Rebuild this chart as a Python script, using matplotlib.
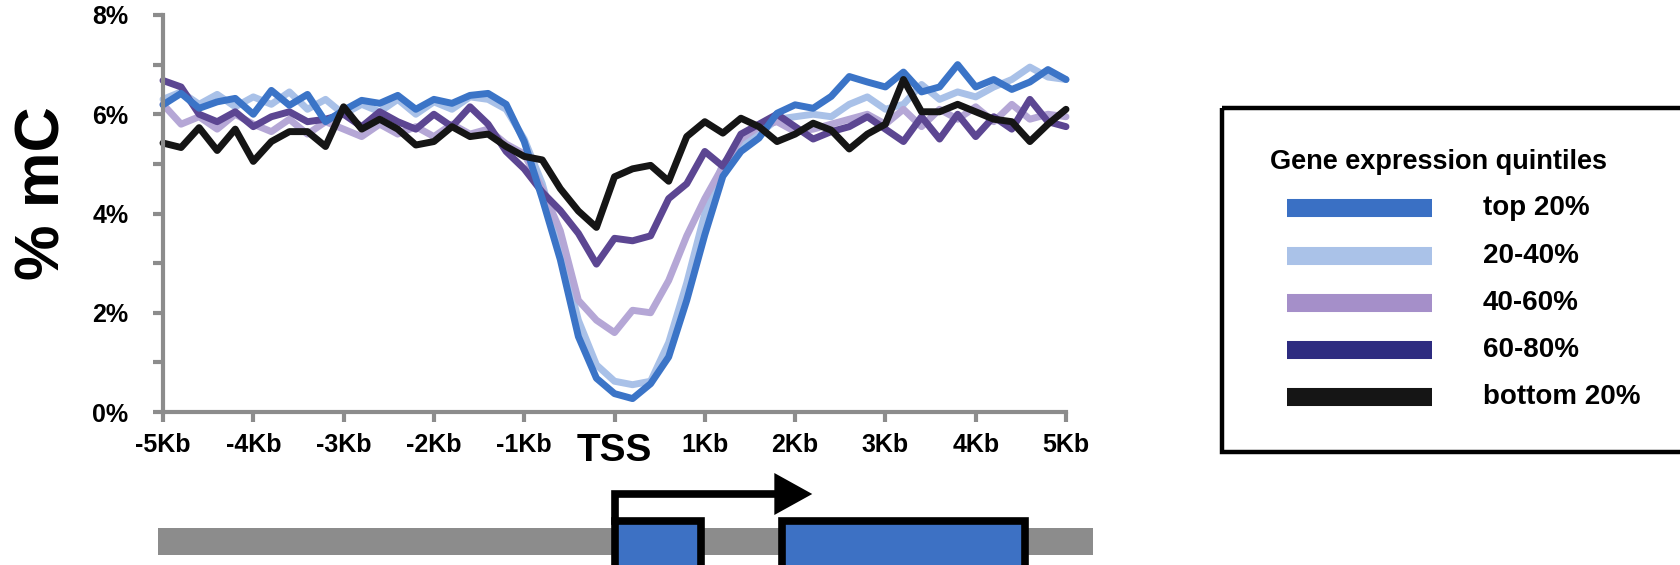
import numpy as np
import matplotlib.pyplot as plt
from matplotlib.patches import Rectangle, Polygon

# Bold Arial-like text everywhere
plt.rcParams['font.family'] = ['Liberation Sans', 'DejaVu Sans']
plt.rcParams['font.weight'] = 'bold'

# ------------------------------------------------------------
# Data: % mC in 200 bp bins around the TSS
# ------------------------------------------------------------
bin_kb = np.linspace(-5.0, 5.0, 51)

top_20 = [6.19, 6.42, 6.12, 6.25, 6.32, 6.00, 6.48, 6.18, 6.40, 5.85,
          6.08, 6.28, 6.22, 6.38, 6.10, 6.30, 6.22, 6.38, 6.42, 6.20,
          5.45, 4.30, 3.07, 1.52, 0.68, 0.37, 0.27, 0.57, 1.11, 2.25,
          3.57, 4.75, 5.25, 5.52, 6.02, 6.19, 6.12, 6.36, 6.76, 6.65,
          6.55, 6.85, 6.45, 6.55, 7.00, 6.55, 6.70, 6.50, 6.65, 6.90,
          6.70]
q20_40 = [6.30, 6.45, 6.20, 6.40, 6.15, 6.35, 6.20, 6.45, 6.10, 6.30,
          6.00, 6.20, 6.05, 6.30, 6.00, 6.25, 6.10, 6.35, 6.30, 6.10,
          5.50, 4.60, 3.30, 1.85, 0.95, 0.62, 0.55, 0.62, 1.40, 2.60,
          4.00, 5.00, 5.35, 5.60, 5.90, 5.95, 6.00, 5.95, 6.20, 6.35,
          6.10, 6.20, 6.60, 6.30, 6.45, 6.35, 6.55, 6.70, 6.95, 6.75,
          6.70]
q40_60 = [6.20, 5.80, 5.95, 5.70, 6.00, 5.80, 5.65, 5.90, 5.60, 5.85,
          5.70, 5.55, 5.80, 5.60, 5.75, 5.55, 5.80, 5.60, 5.70, 5.40,
          5.20, 4.50, 3.65, 2.25, 1.85, 1.60, 2.05, 2.00, 2.65, 3.55,
          4.30, 4.95, 5.50, 5.75, 5.85, 5.65, 5.70, 5.80, 5.90, 6.00,
          5.80, 6.10, 5.75, 6.10, 5.90, 6.15, 5.85, 6.20, 5.90, 6.00,
          5.95]
q60_80 = [6.68, 6.55, 6.00, 5.85, 6.05, 5.75, 5.95, 6.05, 5.85, 5.90,
          6.00, 5.75, 6.05, 5.85, 5.70, 6.00, 5.75, 6.15, 5.80, 5.25,
          4.90, 4.43, 4.06, 3.60, 2.98, 3.50, 3.45, 3.55, 4.30, 4.60,
          5.25, 4.95, 5.60, 5.80, 6.00, 5.75, 5.50, 5.65, 5.75, 5.95,
          5.70, 5.45, 5.95, 5.50, 6.00, 5.55, 5.95, 5.70, 6.30, 5.85,
          5.75]
bottom_20 = [5.42, 5.33, 5.73, 5.27, 5.70, 5.05, 5.45, 5.65, 5.65, 5.35,
             6.15, 5.70, 5.90, 5.70, 5.38, 5.45, 5.75, 5.55, 5.60, 5.35,
             5.15, 5.08, 4.50, 4.05, 3.72, 4.74, 4.90, 4.97, 4.65, 5.55,
             5.85, 5.62, 5.92, 5.75, 5.45, 5.60, 5.82, 5.68, 5.30, 5.60,
             5.80, 6.70, 6.05, 6.05, 6.20, 6.05, 5.90, 5.85, 5.45, 5.80,
             6.10]

series = [q20_40, q40_60, q60_80, top_20, bottom_20]
line_colors = ['#a9c1e8', '#b5a7d6', '#5c4692', '#3b74c7', '#151515']

legend_labels = ['top 20%', '20-40%', '40-60%', '60-80%', 'bottom 20%']
legend_colors = ['#3a70c4', '#aac2e8', '#a58fc9', '#2d2b80', '#151515']
legend_title = 'Gene expression quintiles'

x_tick_pos = [-5000, -4000, -3000, -2000, -1000, 0, 1000, 2000, 3000, 4000, 5000]
x_tick_labels = ['-5Kb', '-4Kb', '-3Kb', '-2Kb', '-1Kb', 'TSS',
                 '1Kb', '2Kb', '3Kb', '4Kb', '5Kb']
y_tick_pos = [0, 1, 2, 3, 4, 5, 6, 7, 8]
y_tick_labels = ['0%', '', '2%', '', '4%', '', '6%', '', '8%']

# gene model (bp relative to TSS)
gene_body = (-5060, 5300)
exons = [(10, 960), (1860, 4550)]
arrow_tip = 2190

# ------------------------------------------------------------
# Figure and main profile axes
# ------------------------------------------------------------
W, H = 1680, 565
fig = plt.figure(figsize=(16.8, 5.65), dpi=100)
ax = fig.add_axes([163 / W, 1 - 412 / H, 903 / W, 397 / H])

for vals, col in zip(series, line_colors):
    ax.plot(bin_kb * 1000, vals, color=col, linewidth=5,
            solid_joinstyle='round', solid_capstyle='round', clip_on=False)

ax.set_xlim(-5000, 5000)
ax.set_ylim(0, 8)

axis_gray = '#8c8c8c'
for side in ['top', 'right']:
    ax.spines[side].set_visible(False)
for side in ['left', 'bottom']:
    ax.spines[side].set_color(axis_gray)
    ax.spines[side].set_linewidth(3)

ax.set_xticks(x_tick_pos)
ax.set_xticklabels(x_tick_labels, fontsize=18, fontweight='bold')
ax.set_yticks(y_tick_pos)
ax.set_yticklabels(y_tick_labels, fontsize=18, fontweight='bold')
ax.tick_params(axis='both', direction='out', length=7, width=3,
               color=axis_gray)
ax.tick_params(axis='x', pad=8)
ax.tick_params(axis='y', pad=18)

# make the TSS label larger
for lab in ax.get_xticklabels():
    if lab.get_text() == 'TSS':
        lab.set_fontsize(28)

fig.text(43 / W, 1 - 193 / H, '% mC', rotation=90, fontsize=45,
         fontweight='bold', ha='center', va='center')

# ------------------------------------------------------------
# Gene model below the x axis (shares the bp scale)
# ------------------------------------------------------------
gax = fig.add_axes([163 / W, 0, 903 / W, 95 / H])
gax.set_xlim(-5000, 5000)
gax.set_ylim(565, 470)
gax.axis('off')
gax.patch.set_alpha(0)

gax.add_patch(Rectangle((gene_body[0], 528), gene_body[1] - gene_body[0], 27,
                        facecolor='#8c8c8c', edgecolor='none', clip_on=False))
for start, end in exons:
    gax.add_patch(Rectangle((start, 521), end - start, 60,
                            facecolor='#3d71c4', edgecolor='black',
                            linewidth=5.5, clip_on=False))
gax.plot([exons[0][0], exons[0][0], arrow_tip - 400], [521, 494, 494],
         color='black', linewidth=5.5, solid_joinstyle='miter', clip_on=False)
gax.add_patch(Polygon([(arrow_tip - 420, 473), (arrow_tip, 494),
                       (arrow_tip - 420, 515)], closed=True,
                      facecolor='black', edgecolor='none', clip_on=False))

# ------------------------------------------------------------
# Legend box (drawn in pixel coordinates)
# ------------------------------------------------------------
lax = fig.add_axes([0, 0, 1, 1])
lax.set_xlim(0, W)
lax.set_ylim(H, 0)
lax.axis('off')
lax.patch.set_alpha(0)

lax.add_patch(Rectangle((1222, 108), 500, 344, facecolor='none',
                        edgecolor='black', linewidth=3.2, clip_on=False))
lax.text(1270, 162, legend_title, fontsize=19.5, fontweight='bold',
         ha='left', va='center')
row_y = [208, 256, 303, 350, 397]
for yy, lab, col in zip(row_y, legend_labels, legend_colors):
    lax.plot([1287, 1432], [yy, yy], color=col, linewidth=13,
             solid_capstyle='butt')
    lax.text(1483, yy, lab, fontsize=20, fontweight='bold',
             ha='left', va='center')

fig.savefig('out.png', dpi=100)
